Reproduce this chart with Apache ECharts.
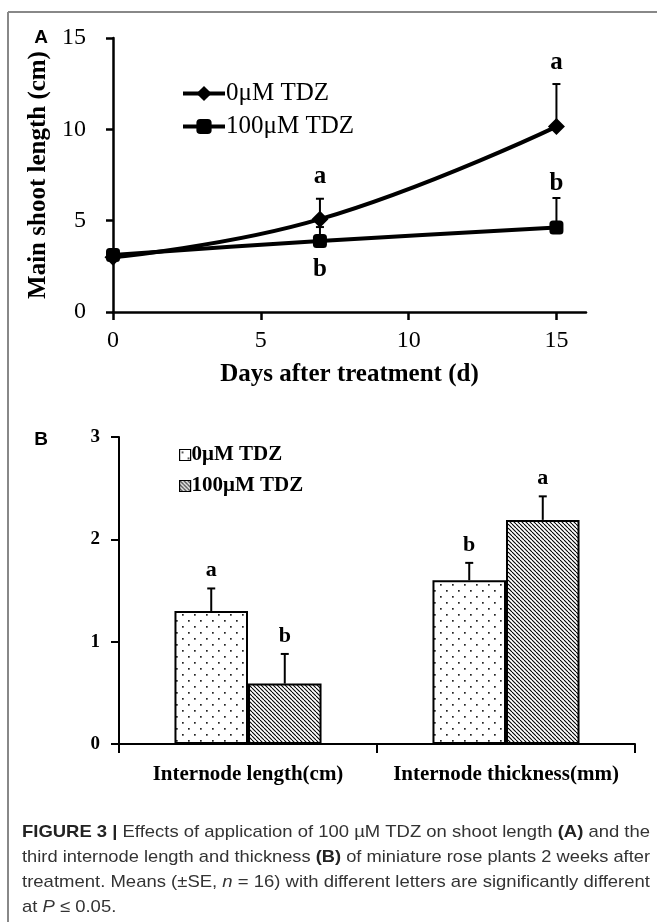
<!DOCTYPE html>
<html>
<head>
<meta charset="utf-8">
<script src="https://cdn.jsdelivr.net/npm/echarts@6/dist/echarts.min.js"></script>
<style>
    html, body { margin: 0; padding: 0; background: #fff; }
    #main { width: 657px; height: 922px; }
</style>
</head>
<body>
<div id="main"></div>
<script>
// Panel A - main shoot length
const days = [0, 7, 15]
const dayTicks = [0, 5, 10, 15]
const shoot0 = [3.0, 5.08, 10.15]
const shoot0Top = [3.2, 6.2, 12.48]
const shoot100 = [3.12, 3.89, 4.62]
const shoot100Top = [3.3, 4.65, 6.24]
const shoot0Letters = ['', 'a', 'a']
const shoot0LetterY = [0, 7.4, 13.65]
const shoot100Letters = ['', 'b', 'b']
const shoot100LetterY = [0, 2.35, 7.05]

// Panel B - third internode
const internodeCats = ['Internode length(cm)', 'Internode thickness(mm)']
const internode0 = [1.3, 1.6]
const internode0Top = [1.52, 1.77]
const internode100 = [0.59, 2.19]
const internode100Top = [0.88, 2.42]
const internode0Letters = ['a', 'b']
const internode100Letters = ['b', 'a']

const seriesNames = ['0μM TDZ', '100μM TDZ']
const serif = '"Liberation Serif", "Times New Roman", serif'
const sans = '"Liberation Sans", Arial, sans-serif'

// patterns
const makeDots = () => {
    const c = document.createElement('canvas')
    c.width = 12
    c.height = 12
    const ctx = c.getContext('2d')
    ctx.fillStyle = '#fff'
    ctx.fillRect(0, 0, 12, 12)
    ctx.fillStyle = '#222'
    ctx.fillRect(2, 2, 1.7, 1.7)
    ctx.fillRect(8, 8, 1.7, 1.7)
    return c
}
const makeHatch = () => {
    const s = 4
    const c = document.createElement('canvas')
    c.width = s
    c.height = s
    const ctx = c.getContext('2d')
    ctx.fillStyle = '#fff'
    ctx.fillRect(0, 0, s, s)
    ctx.strokeStyle = '#000'
    ctx.lineWidth = 1.1
    ;[-s, 0, s].forEach((k) => {
        ctx.beginPath()
        ctx.moveTo(k, 0)
        ctx.lineTo(k + s, s)
        ctx.stroke()
    })
    return c
}

// caption, one line per entry
const captionLines = [
    [['b', 'FIGURE 3 | '], ['n', 'Effects of application of 100 µM TDZ on shoot length '], ['b', '(A)'], ['n', ' and the']],
    [['n', 'third internode length and thickness '], ['b', '(B)'], ['n', ' of miniature rose plants 2 weeks after']],
    [['n', 'treatment. Means (±SE, '], ['i', 'n'], ['n', ' = 16) with different letters are significantly different']],
    [['n', 'at '], ['i', 'P'], ['n', ' ≤ 0.05.']],
]
const capSize = 17
const capFonts = {
    n: `${capSize}px ${sans}`,
    b: `bold ${capSize}px ${sans}`,
    i: `italic ${capSize}px ${sans}`,
}
const measureCtx = document.createElement('canvas').getContext('2d')
const lineWidthOf = (line) =>
    line.reduce((w, seg) => {
        measureCtx.font = capFonts[seg[0]]
        return w + measureCtx.measureText(seg[1]).width
    }, 0)

// justify the full lines to the column width, keep the same squeeze on the last one
const colWidth = 628
const firstScale = colWidth / lineWidthOf(captionLines[0])
const captionGraphics = captionLines.map((line, i) => {
    const last = i === captionLines.length - 1
    return {
        type: 'text',
        x: 22,
        y: 832 + i * 25,
        scaleX: last ? firstScale : colWidth / lineWidthOf(line),
        style: {
            text: line.map((seg) => `{${seg[0]}|${seg[1]}}`).join(''),
            verticalAlign: 'middle',
            rich: {
                n: { fontFamily: sans, fontSize: capSize, fill: '#333' },
                b: { fontFamily: sans, fontSize: capSize, fontWeight: 'bold', fill: '#222' },
                i: { fontFamily: sans, fontSize: capSize, fontStyle: 'italic', fill: '#333' },
            },
        },
    }
})

const chart = echarts.init(document.getElementById('main'))

const errorBarItem = (api, x, y, top, dx) => {
    const p = api.coord([x, y])
    const t = api.coord([x, top])
    const cx = p[0] + dx
    return {
        type: 'group',
        children: [
            { type: 'line', shape: { x1: cx, y1: p[1], x2: cx, y2: t[1] }, style: { stroke: '#000', lineWidth: 2 } },
            { type: 'line', shape: { x1: cx - 4, y1: t[1], x2: cx + 4, y2: t[1] }, style: { stroke: '#000', lineWidth: 2 } },
        ],
    }
}

const shootErr = []
days.forEach((d, i) => {
    shootErr.push([d, shoot0[i], shoot0Top[i]])
    shootErr.push([d, shoot100[i], shoot100Top[i]])
})
const shootLetters = []
days.forEach((d, i) => {
    if (shoot0Letters[i]) shootLetters.push({ value: [d, shoot0LetterY[i]], txt: shoot0Letters[i] })
    if (shoot100Letters[i]) shootLetters.push({ value: [d, shoot100LetterY[i]], txt: shoot100Letters[i] })
})

const internodeErr = []
const internodeLetters = []
internodeCats.forEach((c, i) => {
    internodeErr.push([i, internode0[i], internode0Top[i], -1])
    internodeErr.push([i, internode100[i], internode100Top[i], 1])
    internodeLetters.push(internode0Letters[i], internode100Letters[i])
})
const barGapRatio = 0.43

const option = {
    animation: false,
    backgroundColor: '#fff',
    grid: [
        { left: 113, top: 38, width: 473, height: 274 },
        { left: 119, top: 437, width: 516, height: 307 },
    ],
    legend: [
        {
            data: seriesNames,
            orient: 'vertical',
            left: 176,
            top: 75,
            itemWidth: 42,
            itemHeight: 19,
            itemGap: 6,
            selectedMode: false,
            lineStyle: { color: '#000', width: 4 },
            textStyle: { fontFamily: serif, fontSize: 25, color: '#000', lineHeight: 27, padding: [0, 0, 0, -4] },
        },
        {
            data: seriesNames.map((n) => 'B ' + n),
            formatter: (n) => n.slice(2),
            orient: 'vertical',
            left: 174,
            top: 439,
            icon: 'rect',
            itemWidth: 11,
            itemHeight: 11,
            itemGap: 9,
            selectedMode: false,
            itemStyle: { borderColor: '#000', borderWidth: 1.2 },
            textStyle: { fontFamily: serif, fontSize: 21, fontWeight: 'bold', color: '#000', lineHeight: 22, padding: [0, 0, 0, -4] },
        },
    ],
    xAxis: [
        {
            type: 'value',
            gridIndex: 0,
            min: 0,
            max: 16,
            interval: 5,
            name: 'Days after treatment (d)',
            nameLocation: 'middle',
            nameGap: 50,
            nameTextStyle: { fontFamily: serif, fontSize: 25, fontWeight: 'bold', color: '#000' },
            axisLine: { lineStyle: { color: '#000', width: 2.5 } },
            axisTick: { show: true, length: 8, customValues: dayTicks, lineStyle: { color: '#000', width: 2.5 } },
            axisLabel: { customValues: dayTicks, margin: 17, fontFamily: serif, fontSize: 24, color: '#000' },
            splitLine: { show: false },
        },
        {
            type: 'category',
            gridIndex: 1,
            data: internodeCats,
            axisLine: { lineStyle: { color: '#000', width: 2 } },
            axisTick: { show: true, length: 9, interval: 0, lineStyle: { color: '#000', width: 2 } },
            axisLabel: { margin: 20, fontFamily: serif, fontSize: 21, fontWeight: 'bold', color: '#000', interval: 0 },
        },
    ],
    yAxis: [
        {
            type: 'value',
            gridIndex: 0,
            min: 0,
            max: 15,
            interval: 5,
            name: 'Main shoot length (cm)',
            nameLocation: 'middle',
            nameRotate: 90,
            nameGap: 57,
            nameTextStyle: { fontFamily: serif, fontSize: 25, fontWeight: 'bold', color: '#000' },
            axisLine: { show: true, lineStyle: { color: '#000', width: 2.5 } },
            axisTick: { show: true, length: 7, lineStyle: { color: '#000', width: 2.5 } },
            axisLabel: { margin: 27, fontFamily: serif, fontSize: 24, color: '#000' },
            splitLine: { show: false },
        },
        {
            type: 'value',
            gridIndex: 1,
            min: 0,
            max: 3,
            interval: 1,
            axisLine: { show: true, lineStyle: { color: '#000', width: 2 } },
            axisTick: { show: true, length: 8, lineStyle: { color: '#000', width: 2 } },
            axisLabel: { margin: 19, fontFamily: serif, fontSize: 19, fontWeight: 'bold', color: '#000' },
            splitLine: { show: false },
        },
    ],
    series: [
        {
            type: 'custom',
            name: 'errA',
            xAxisIndex: 0,
            yAxisIndex: 0,
            z: 1,
            data: shootErr,
            renderItem: (params, api) => errorBarItem(api, api.value(0), api.value(1), api.value(2), 0),
        },
        {
            type: 'line',
            name: seriesNames[0],
            xAxisIndex: 0,
            yAxisIndex: 0,
            z: 3,
            data: days.map((d, i) => [d, shoot0[i]]),
            smooth: 0.45,
            symbol: 'diamond',
            symbolSize: 17,
            color: '#000',
            lineStyle: { color: '#000', width: 4 },
            itemStyle: { color: '#000' },
        },
        {
            type: 'line',
            name: seriesNames[1],
            xAxisIndex: 0,
            yAxisIndex: 0,
            z: 2,
            data: days.map((d, i) => [d, shoot100[i]]),
            smooth: 0.3,
            symbol: 'roundRect',
            symbolSize: 14,
            color: '#000',
            lineStyle: { color: '#000', width: 4 },
            itemStyle: { color: '#000' },
        },
        {
            type: 'custom',
            name: 'lettersA',
            xAxisIndex: 0,
            yAxisIndex: 0,
            data: shootLetters,
            renderItem: (params, api) => {
                const p = api.coord([api.value(0), api.value(1)])
                return {
                    type: 'text',
                    x: p[0],
                    y: p[1],
                    style: {
                        text: shootLetters[params.dataIndex].txt,
                        font: `bold 25px ${serif}`,
                        fill: '#000',
                        align: 'center',
                        verticalAlign: 'middle',
                    },
                }
            },
        },
        {
            type: 'bar',
            name: 'B ' + seriesNames[0],
            xAxisIndex: 1,
            yAxisIndex: 1,
            data: internode0,
            barGap: '0%',
            barCategoryGap: barGapRatio * 100 + '%',
            itemStyle: { color: { image: makeDots(), repeat: 'repeat' }, borderColor: '#000', borderWidth: 2 },
        },
        {
            type: 'bar',
            name: 'B ' + seriesNames[1],
            xAxisIndex: 1,
            yAxisIndex: 1,
            data: internode100,
            barGap: '0%',
            barCategoryGap: barGapRatio * 100 + '%',
            itemStyle: { color: { image: makeHatch(), repeat: 'repeat' }, borderColor: '#000', borderWidth: 2 },
        },
        {
            type: 'custom',
            name: 'errB',
            xAxisIndex: 1,
            yAxisIndex: 1,
            z: 3,
            data: internodeErr,
            renderItem: (params, api) => {
                const band = api.size([1, 0])[0]
                const dx = (api.value(3) * band * (1 - barGapRatio)) / 4
                const bar = errorBarItem(api, api.value(0), api.value(1), api.value(2), dx)
                const t = api.coord([api.value(0), api.value(2)])
                bar.children.push({
                    type: 'text',
                    x: t[0] + dx,
                    y: t[1] - 18,
                    style: {
                        text: internodeLetters[params.dataIndex],
                        font: `bold 22px ${serif}`,
                        fill: '#000',
                        align: 'center',
                        verticalAlign: 'middle',
                    },
                })
                return bar
            },
        },
    ],
    graphic: [
        { type: 'line', shape: { x1: 8, y1: 12, x2: 657, y2: 12 }, style: { stroke: '#888', lineWidth: 2 } },
        { type: 'line', shape: { x1: 8, y1: 12, x2: 8, y2: 922 }, style: { stroke: '#888', lineWidth: 2 } },
        { type: 'text', x: 41, y: 38, style: { text: 'A', font: `bold 19px ${sans}`, fill: '#000', align: 'center', verticalAlign: 'middle' } },
        { type: 'text', x: 41, y: 440, style: { text: 'B', font: `bold 19px ${sans}`, fill: '#000', align: 'center', verticalAlign: 'middle' } },
        ...captionGraphics,
    ],
}

chart.setOption(option)
</script>
</body>
</html>
